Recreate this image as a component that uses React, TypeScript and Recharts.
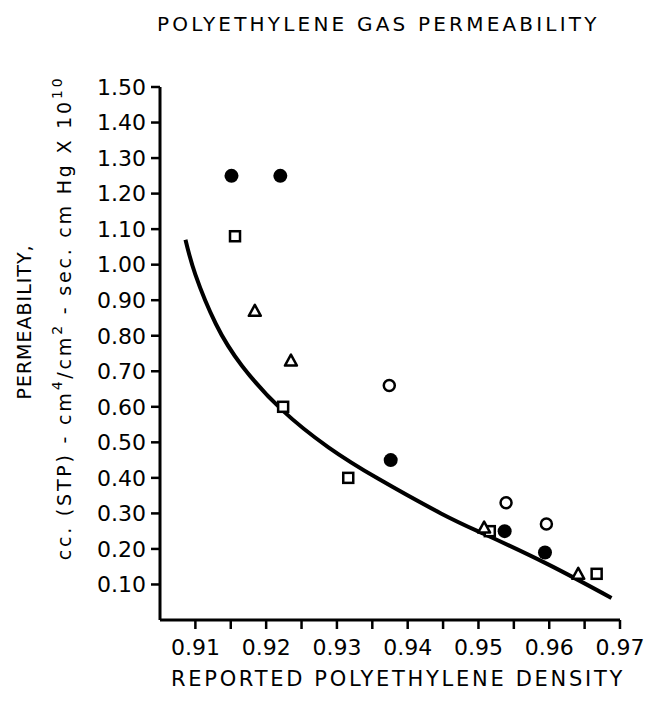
import React from 'react';
import {
  ComposedChart,
  Scatter,
  Line,
  XAxis,
  YAxis,
  Label,
} from 'recharts';

// values (density vs permeability x 10^10)
const filledCircles = [
  { x: 0.9151, y: 1.25 },
  { x: 0.922, y: 1.25 },
  { x: 0.9376, y: 0.45 },
  { x: 0.9537, y: 0.25 },
  { x: 0.9594, y: 0.19 },
];

const openCircles = [
  { x: 0.9374, y: 0.66 },
  { x: 0.9539, y: 0.33 },
  { x: 0.9596, y: 0.27 },
];

const openSquares = [
  { x: 0.9156, y: 1.08 },
  { x: 0.9224, y: 0.6 },
  { x: 0.9316, y: 0.4 },
  { x: 0.9516, y: 0.25 },
  { x: 0.9667, y: 0.13 },
];

const openTriangles = [
  { x: 0.9184, y: 0.87 },
  { x: 0.9235, y: 0.73 },
  { x: 0.9508, y: 0.26 },
  { x: 0.9641, y: 0.13 },
];

// hand-drawn fit line, traced along its centre
const fitCurve = [
  { x: 0.9086, y: 1.07 },
  { x: 0.91, y: 0.972 },
  { x: 0.9129, y: 0.833 },
  { x: 0.9166, y: 0.715 },
  { x: 0.9222, y: 0.592 },
  { x: 0.9288, y: 0.486 },
  { x: 0.9358, y: 0.398 },
  { x: 0.9447, y: 0.3 },
  { x: 0.9508, y: 0.242 },
  { x: 0.9597, y: 0.158 },
  { x: 0.9688, y: 0.062 },
];

const xTicks = [0.91, 0.915, 0.92, 0.925, 0.93, 0.935, 0.94, 0.945, 0.95, 0.955, 0.96, 0.965, 0.97];
const yTicks = [0.1, 0.2, 0.3, 0.4, 0.5, 0.6, 0.7, 0.8, 0.9, 1.0, 1.1, 1.2, 1.3, 1.4, 1.5];

const FONT = '"DejaVu Sans", sans-serif';

const FilledDot = (props: any) => (
  <circle cx={props.cx} cy={props.cy} r={7} fill="#000" />
);
const OpenDot = (props: any) => (
  <circle cx={props.cx} cy={props.cy} r={5.5} fill="#fff" stroke="#000" strokeWidth={2.5} />
);
const OpenSquare = (props: any) => (
  <rect x={props.cx - 5} y={props.cy - 5} width={10} height={10} fill="#fff" stroke="#000" strokeWidth={2.5} />
);
const OpenTriangle = (props: any) => (
  <polygon
    points={`${props.cx},${props.cy - 6} ${props.cx - 6},${props.cy + 5} ${props.cx + 6},${props.cy + 5}`}
    fill="#fff"
    stroke="#000"
    strokeWidth={2.5}
    strokeLinejoin="round"
  />
);

const xTickFormat = (v: number) =>
  Math.round(v * 1000) % 10 === 0 ? v.toFixed(2) : '';

const YTitle = () => (
  <g fontFamily={FONT} fill="#000">
    <text x={31} y={322} transform="rotate(-90 31 322)" textAnchor="middle" fontSize={19} letterSpacing={1}>
      PERMEABILITY,
    </text>
    <text x={71} y={318} transform="rotate(-90 71 318)" textAnchor="middle" fontSize={19} letterSpacing={2.8}>
      cc. (STP) - cm
      <tspan dy={-9} fontSize={14}>4</tspan>
      <tspan dy={9}>/cm</tspan>
      <tspan dy={-9} fontSize={14}>2</tspan>
      <tspan dy={9}> - sec. cm Hg X 10</tspan>
      <tspan dy={-9} fontSize={14}>10</tspan>
    </text>
  </g>
);

const XTitle = () => (
  <text x={398} y={686} textAnchor="middle" fontFamily={FONT} fontSize={21} letterSpacing={2.7} fill="#000">
    REPORTED POLYETHYLENE DENSITY
  </text>
);

const App: React.FC = () => {
  return (
    <div style={{ position: 'absolute', left: 0, top: 0, width: 655, height: 701, background: '#fff' }}>
      <div
        style={{
          position: 'absolute',
          left: 157,
          top: 12,
          fontFamily: FONT,
          fontSize: 20,
          letterSpacing: 3.2,
          whiteSpace: 'nowrap',
          color: '#000',
        }}
      >
        POLYETHYLENE GAS PERMEABILITY
      </div>
      <ComposedChart
        width={655}
        height={701}
        margin={{ top: 87, right: 35, bottom: 41, left: 100 }}
      >
        <XAxis
          type="number"
          dataKey="x"
          domain={[0.905, 0.97]}
          ticks={xTicks}
          interval={0}
          tickFormatter={xTickFormat}
          height={40}
          tickSize={9}
          tickMargin={10}
          axisLine={{ stroke: '#000', strokeWidth: 3 }}
          tickLine={{ stroke: '#000', strokeWidth: 2.5 }}
          tick={{ fill: '#000', fontSize: 22, fontFamily: FONT }}
        >
          <Label content={<XTitle />} />
        </XAxis>
        <YAxis
          type="number"
          dataKey="y"
          domain={[0, 1.5]}
          ticks={yTicks}
          interval={0}
          tickFormatter={(v: number) => v.toFixed(2)}
          width={60}
          tickSize={9}
          tickMargin={5}
          axisLine={{ stroke: '#000', strokeWidth: 3 }}
          tickLine={{ stroke: '#000', strokeWidth: 2.5 }}
          tick={{ fill: '#000', fontSize: 22, fontFamily: FONT }}
        >
          <Label content={<YTitle />} />
        </YAxis>
        <Line
          data={fitCurve}
          dataKey="y"
          type="natural"
          stroke="#000"
          strokeWidth={4}
          dot={false}
          isAnimationActive={false}
        />
        <Scatter data={filledCircles} dataKey="y" shape={FilledDot} isAnimationActive={false} />
        <Scatter data={openCircles} dataKey="y" shape={OpenDot} isAnimationActive={false} />
        <Scatter data={openSquares} dataKey="y" shape={OpenSquare} isAnimationActive={false} />
        <Scatter data={openTriangles} dataKey="y" shape={OpenTriangle} isAnimationActive={false} />
      </ComposedChart>
    </div>
  );
};

export default App;
